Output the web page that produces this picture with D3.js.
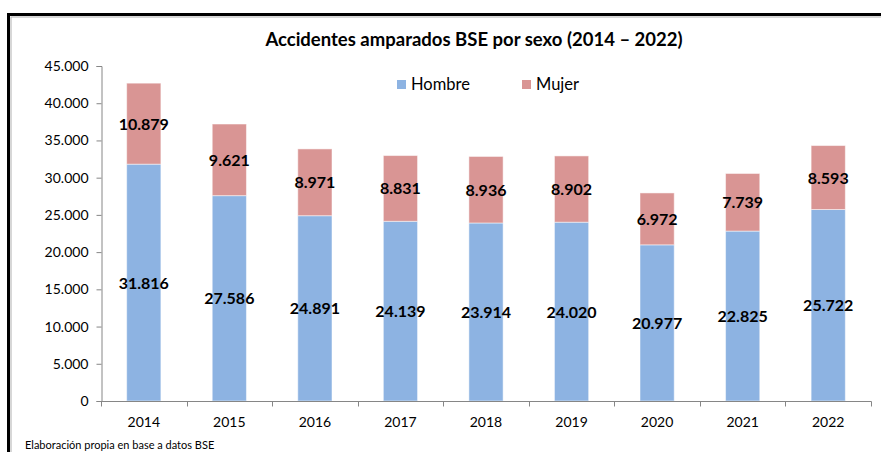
<!DOCTYPE html>
<html>
<head>
<meta charset="utf-8">
<script src="https://cdn.jsdelivr.net/npm/d3@7"></script>
<style>
body{margin:0;background:#fff;}
svg{display:block;font-family:Lato,"Open Sans",sans-serif;}
</style>
</head>
<body>
<div id="chart"></div>
<script>
var years=["2014","2015","2016","2017","2018","2019","2020","2021","2022"];
var hombre=[31816,27586,24891,24139,23914,24020,20977,22825,25722];
var mujer=[10879,9621,8971,8831,8936,8902,6972,7739,8593];
var series=["Hombre","Mujer"];
var colors=["#8db3e2","#d99594"];
var yTicks=[0,5000,10000,15000,20000,25000,30000,35000,40000,45000];

var W=881,H=452;

var loc=d3.formatLocale({decimal:",",thousands:".",grouping:[3],currency:["",""]});
var fmt=loc.format(",d");

var svg=d3.select("#chart").append("svg")
	.attr("width",W)
	.attr("height",H);

// frame (right/bottom side falls outside the picture)
svg.append("rect")
	.attr("x",8.5).attr("y",14.5)
	.attr("width",W+20).attr("height",H+20)
	.attr("fill","none")
	.attr("stroke","#000")
	.attr("stroke-width",3);
svg.append("rect")
	.attr("x",11).attr("y",17)
	.attr("width",W+20).attr("height",H+20)
	.attr("fill","none")
	.attr("stroke","#b0b0b0")
	.attr("stroke-width",1);

var data=years.map(function(y,i){
	return {year:y,Hombre:hombre[i],Mujer:mujer[i]};
});
var stacked=d3.stack().keys(series)(data);

var x=d3.scaleBand()
	.domain(years)
	.range([101,871])
	.paddingInner(0.6)
	.paddingOuter(0.3);
var xb=d3.scaleBand().domain(years).range([101,871]);

var y=d3.scaleLinear()
	.domain([0,45000])
	.range([401,66]);

// y axis
var yAxis=svg.append("g")
	.attr("transform","translate(101.5,0)")
	.call(d3.axisLeft(y).tickValues(yTicks).tickFormat(fmt).tickSize(5).tickPadding(8));
yAxis.select(".domain").attr("stroke","#868686");
yAxis.selectAll(".tick line").attr("stroke","#868686");
yAxis.selectAll("text").attr("font-size",14).attr("fill","#000").attr("font-family","Lato");

// bars
var layer=svg.append("g").selectAll("g")
	.data(stacked)
	.enter().append("g")
	.attr("fill",function(d,i){return colors[i];});

layer.selectAll("rect")
	.data(function(d){return d;})
	.enter().append("rect")
	.attr("x",function(d){return x(d.data.year);})
	.attr("width",x.bandwidth())
	.attr("y",function(d){return y(d[1]);})
	.attr("height",function(d){return y(d[0])-y(d[1]);})
	.attr("stroke","#fff")
	.attr("stroke-opacity",0.5)
	.attr("stroke-width",1);

// x axis
var xAxisG=svg.append("g").attr("transform","translate(0,401.5)");
xAxisG.append("line")
	.attr("x1",101).attr("x2",871.5)
	.attr("stroke","#868686");
var bounds=years.map(function(d){return xb(d);}).concat([871]);
xAxisG.selectAll(".tk")
	.data(bounds)
	.enter().append("line")
	.attr("x1",function(d){return Math.round(d)+0.5;})
	.attr("x2",function(d){return Math.round(d)+0.5;})
	.attr("y1",0).attr("y2",5)
	.attr("stroke","#868686");
xAxisG.selectAll("text")
	.data(years)
	.enter().append("text")
	.attr("x",function(d){return xb(d)+xb.bandwidth()/2;})
	.attr("y",25)
	.attr("text-anchor","middle")
	.attr("font-size",14)
	.text(function(d){return d;});

// value labels
layer.each(function(s){
	d3.select(this).selectAll("text")
		.data(s)
		.enter().append("text")
		.attr("x",function(d){return x(d.data.year)+x.bandwidth()/2;})
		.attr("y",function(d){return (y(d[0])+y(d[1]))/2+6;})
		.attr("text-anchor","middle")
		.attr("font-size",16)
		.attr("font-weight","bold")
		.attr("fill","#000")
		.text(function(d){return fmt(d[1]-d[0]);});
});

// title
svg.append("text")
	.attr("x",474)
	.attr("y",46)
	.attr("text-anchor","middle")
	.attr("font-size",18.5)
	.attr("font-weight","bold")
	.text("Accidentes amparados BSE por sexo (2014 \u2013 2022)");

// legend
var legend=svg.append("g").selectAll("g")
	.data(series)
	.enter().append("g")
	.attr("transform",function(d,i){return "translate("+(397+i*125)+",80)";});
legend.append("rect")
	.attr("width",9).attr("height",9)
	.attr("fill",function(d,i){return colors[i];});
legend.append("text")
	.attr("x",14)
	.attr("y",10)
	.attr("font-size",16.5)
	.text(function(d){return d;});

// source note
svg.append("text")
	.attr("x",25)
	.attr("y",449)
	.attr("font-size",11)
	.text("Elaboración propia en base a datos BSE");
</script>
</body>
</html>
